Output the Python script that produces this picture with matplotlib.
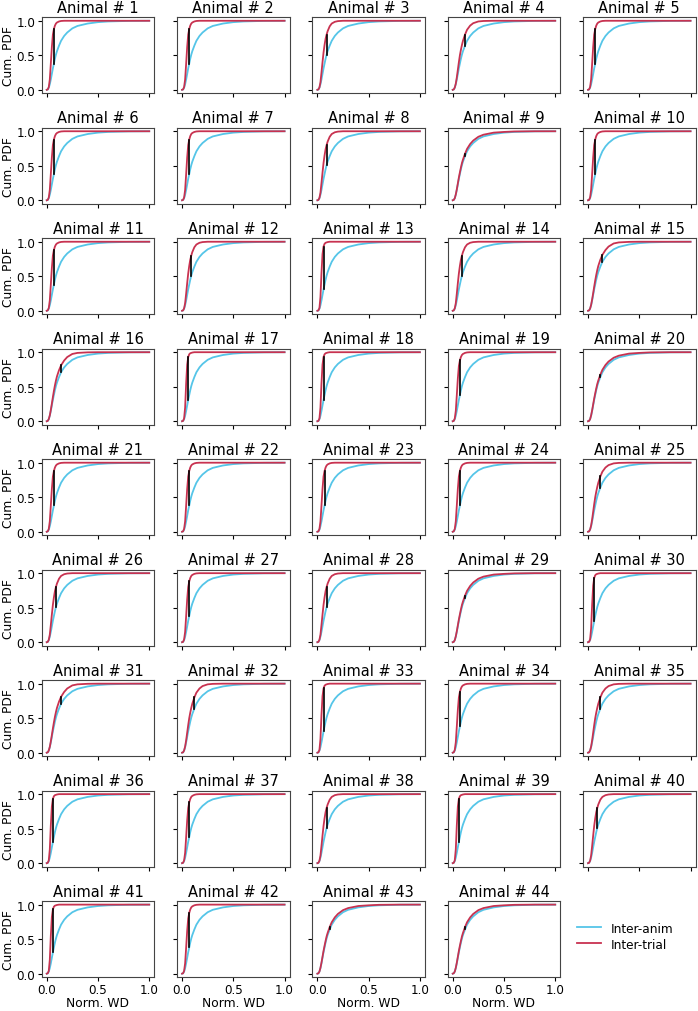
import numpy as np
import matplotlib
matplotlib.use('Agg')
import matplotlib.pyplot as plt

x_grid = [0, 0.01, 0.02, 0.03, 0.04, 0.05, 0.06, 0.07, 0.08, 0.09, 0.10,
          0.12, 0.14, 0.17, 0.20, 0.25, 0.30, 0.40, 0.50, 0.60, 0.80, 1.0]

# inter-animal curve (same shape in every panel)
blue_cdf = [0, 0.005, 0.03, 0.08, 0.15, 0.23, 0.31, 0.38, 0.45, 0.51, 0.56,
            0.64, 0.71, 0.78, 0.83, 0.89, 0.925, 0.96, 0.98, 0.99, 0.998, 1.0]

# inter-trial curve shapes
red_vsteep = [0, 0.005, 0.04, 0.20, 0.55, 0.82, 0.93, 0.97, 0.985, 0.99, 0.995,
              1.0, 1.0, 1.0, 1.0, 1.0, 1.0, 1.0, 1.0, 1.0, 1.0, 1.0]
red_steep = [0, 0.005, 0.04, 0.15, 0.38, 0.62, 0.80, 0.88, 0.93, 0.96, 0.975,
             0.99, 0.997, 1.0, 1.0, 1.0, 1.0, 1.0, 1.0, 1.0, 1.0, 1.0]
red_stmid = [0, 0.005, 0.035, 0.11, 0.25, 0.40, 0.54, 0.65, 0.74, 0.80, 0.85,
             0.92, 0.96, 0.985, 0.995, 1.0, 1.0, 1.0, 1.0, 1.0, 1.0, 1.0]
red_mid = [0, 0.005, 0.033, 0.09, 0.18, 0.29, 0.40, 0.50, 0.58, 0.65, 0.71,
           0.80, 0.87, 0.93, 0.965, 0.99, 0.997, 1.0, 1.0, 1.0, 1.0, 1.0]
red_wide = [0, 0.005, 0.032, 0.085, 0.165, 0.255, 0.35, 0.44, 0.52, 0.59, 0.65,
            0.74, 0.81, 0.88, 0.93, 0.975, 0.99, 0.998, 1.0, 1.0, 1.0, 1.0]
red_close = [0, 0.005, 0.03, 0.085, 0.16, 0.245, 0.33, 0.405, 0.475, 0.54, 0.59,
             0.675, 0.745, 0.815, 0.865, 0.92, 0.95, 0.98, 0.99, 0.997, 1.0, 1.0]

red_shapes = {'vsteep': red_vsteep, 'steep': red_steep, 'stmid': red_stmid,
              'mid': red_mid, 'wide': red_wide, 'close': red_close}

# which inter-trial shape each animal has (animal 1..44)
animal_shape = [
    'steep', 'steep', 'stmid', 'mid', 'steep',
    'steep', 'steep', 'stmid', 'close', 'steep',
    'steep', 'stmid', 'vsteep', 'stmid', 'wide',
    'wide', 'vsteep', 'vsteep', 'steep', 'close',
    'steep', 'steep', 'steep', 'steep', 'mid',
    'stmid', 'steep', 'stmid', 'close', 'vsteep',
    'wide', 'mid', 'vsteep', 'steep', 'mid',
    'vsteep', 'steep', 'stmid', 'vsteep', 'stmid',
    'vsteep', 'steep', 'close', 'close',
]

BLUE = '#55c5e8'
RED = '#c83250'

n_rows, n_cols = 9, 5
fig, axes = plt.subplots(n_rows, n_cols, figsize=(6.98, 10.12), dpi=100,
                         sharex=True, sharey=True)
fig.subplots_adjust(left=0.0596, right=0.9967, top=0.9819, bottom=0.0335,
                    wspace=0.2, hspace=0.455)

x = np.array(x_grid)
b = np.array(blue_cdf)

for i, ax in enumerate(axes.flat):
    if i >= len(animal_shape):
        ax.axis('off')
        continue
    r = np.array(red_shapes[animal_shape[i]])
    ax.plot(x, b, color=BLUE, lw=1.3, label='Inter-anim')
    ax.plot(x, r, color=RED, lw=1.3, label='Inter-trial')
    # KS distance: biggest gap between the two curves
    k = np.argmax(np.abs(r - b))
    ax.plot([x[k], x[k]], [b[k], r[k]], color='black', lw=1.2)
    ax.set_title(f'Animal # {i + 1}', fontsize=10.5, pad=4)
    ax.set_xticks([0, 0.5, 1.0])
    ax.set_yticks([0, 0.5, 1.0])
    ax.tick_params(labelsize=8.6, length=3, pad=1.5)
    for s in ax.spines.values():
        s.set_color('#444444')
        s.set_linewidth(0.8)
    row, col = divmod(i, n_cols)
    if col == 0:
        ax.set_ylabel('Cum. PDF', fontsize=8.8, labelpad=1)
    if row == n_rows - 1:
        ax.set_xlabel('Norm. WD', fontsize=8.8, labelpad=0)
        ax.tick_params(labelbottom=True)

# the panel above the empty slot (animal 40) has no x tick labels
axes[n_rows - 2, n_cols - 1].tick_params(labelbottom=False)

handles, labels = axes[0, 0].get_legend_handles_labels()
fig.legend(handles, labels, loc='upper left', bbox_to_anchor=(0.811, 0.099),
           frameon=False, fontsize=8.7, handlelength=2.0, labelspacing=0.25)

fig.savefig('out.png', dpi=100)
